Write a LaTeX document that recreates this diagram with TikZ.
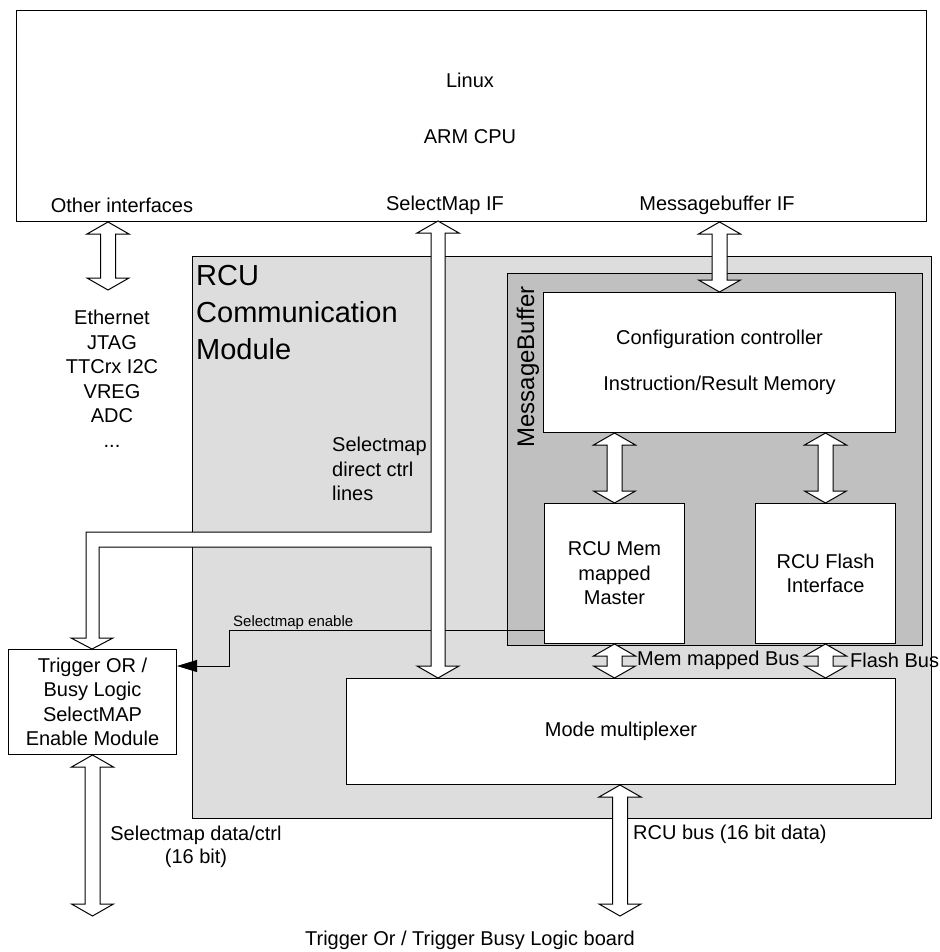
\documentclass[tikz,border=0pt]{standalone}
\usepackage{fontspec}
\setmainfont{Liberation Sans}
\usetikzlibrary{arrows.meta,calc}
\definecolor{modgray}{RGB}{221,221,221}
\definecolor{bufgray}{RGB}{192,192,192}
\tikzset{
  blk/.style={draw=black,line width=1pt,fill=white,anchor=north west,inner sep=0pt},
  fatarrow/.style={draw=black,line width=1pt,fill=white,line join=miter},
  sigline/.style={draw=black,line width=0.8pt,-{Triangle[length=20pt,width=12pt]}},
  lbl/.style={inner sep=0pt,font=\fontsize{20}{24.5}\selectfont,align=center},
}
% vertical double-headed block arrow between two points (upper, lower)
\newcommand\dualarrow[2]{%
  \path[fatarrow] let \p1=#1, \p2=#2 in
   (\x1,\y1) -- ({\x1+21pt},{\y1-12pt}) -- ({\x1+7.5pt},{\y1-12pt})
   -- ({\x1+7.5pt},{\y2+12pt}) -- ({\x1+21pt},{\y2+12pt}) -- (\x1,\y2)
   -- ({\x1-21pt},{\y2+12pt}) -- ({\x1-7.5pt},{\y2+12pt})
   -- ({\x1-7.5pt},{\y1-12pt}) -- ({\x1-21pt},{\y1-12pt}) -- cycle;}
\begin{document}
\begin{tikzpicture}[x=1pt,y=-1pt]
\useasboundingbox (0,0) rectangle (939,952);

% blocks
\node[blk,minimum width=910,minimum height=211] (cpu) at (16,10) {};
\node[blk,fill=modgray,minimum width=739,minimum height=562] (rcu) at (192,256) {};
\node[blk,fill=bufgray,minimum width=415,minimum height=372] (mb) at (507,273) {};
\node[blk,lbl,minimum width=352,minimum height=140] (cfg) at (543,292)
  {Configuration controller\\[21.5pt]Instruction/Result Memory};
\node[blk,lbl,minimum width=140,minimum height=140] (mst) at (544,503)
  {RCU Mem\\mapped\\Master};
\node[blk,lbl,minimum width=140,minimum height=140] (fls) at (755,503)
  {RCU Flash\\Interface};
\node[blk,lbl,minimum width=549,minimum height=106] (mux) at (346,678)
  {Mode multiplexer};
\node[blk,lbl,minimum width=168,minimum height=105] (trg) at (8,649)
  {Trigger OR /\\Busy Logic\\SelectMAP\\Enable Module};

% free ends and bends
\coordinate (smtop) at (438,221);
\coordinate (othend) at (108,290);
\coordinate (busend) at (620,916);
\coordinate (smend) at (92,916);
\coordinate (enbend) at (229,630);
\coordinate (enrow) at (0,666);

% selectmap enable signal
\draw[sigline] (mst.west |- enbend) -- (enbend) |- (trg.east |- enrow);
\node[font=\fontsize{15}{18}\selectfont,inner sep=0pt,anchor=base west] (enlbl)
  at (233,626) {Selectmap enable};

% block arrows
\dualarrow{(othend |- cpu.south)}{(othend)}
\dualarrow{(cfg.north |- cpu.south)}{(cfg.north)}
\dualarrow{(mst.north |- cfg.south)}{(mst.north)}
\dualarrow{(fls.north |- cfg.south)}{(fls.north)}
\dualarrow{(mst.south)}{(mst.south |- mux.north)}
\dualarrow{(fls.south)}{(fls.south |- mux.north)}
\dualarrow{(mux.south -| busend)}{(busend)}
\dualarrow{(trg.south)}{(smend)}

% SelectMap bus with branch to the trigger module
\path[fatarrow] (smtop) -- (459,233) -- (445,233) -- (445,666) -- (459,666)
  -- (438,678) -- (417,666) -- (431,666) -- (431,547) -- (99,547) -- (99,638)
  -- (113,638) -- (92,649) -- (71,638) -- (86,638) -- (86,532) -- (431,532)
  -- (431,233) -- (417,233) -- cycle;

% labels
\node[lbl] (linux) at (470,80) {Linux};
\node[lbl] (arm) at (470,137) {ARM CPU};
\node[lbl] (othif) at (122,205) {Other interfaces};
\node[lbl] (smif) at (445,205) {SelectMap IF};
\node[lbl] (mbif) at (717,205) {Messagebuffer IF};
\node[lbl,anchor=north] (ifs) at (112,310) {Ethernet\\JTAG\\TTCrx I2C\\VREG\\ADC\\...};
\node[anchor=north west,inner sep=0pt,align=left,font=\fontsize{29}{37}\selectfont]
  (title) at (196,265) {RCU\\Communication\\Module};
\node[lbl,align=left,anchor=north west] (smdir) at (332,437)
  {Selectmap\\direct ctrl\\lines};
\node[rotate=90,anchor=base,inner sep=0pt,font=\fontsize{24}{28}\selectfont]
  (mblbl) at (534,367) {MessageBuffer};
\node[lbl,anchor=west] (mmbus) at (637,660) {Mem mapped Bus};
\node[lbl,anchor=west] (flbus) at (850,660) {Flash Bus};
\node[lbl,anchor=west] (rcubus) at (633,834) {RCU bus (16 bit data)};
\node[lbl,font=\fontsize{20}{23}\selectfont] (smdata) at (196,847)
  {Selectmap data/ctrl\\(16 bit)};
\node[lbl] (board) at (470,940) {Trigger Or / Trigger Busy Logic board};
\end{tikzpicture}
\end{document}
